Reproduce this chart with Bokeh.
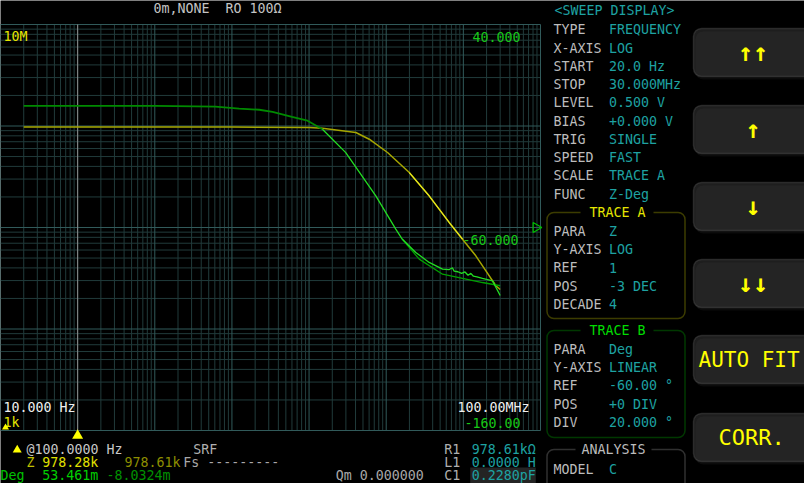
import math
from bokeh.plotting import figure
from bokeh.models import Range1d, LogScale, BoxAnnotation
from bokeh.core.properties import value
from bokeh.embed import file_html
from bokeh.resources import INLINE

# Trace A : |Z| (ohm) versus frequency (Hz)
z_freq = [20, 1e3, 1e4, 1e5, 149e3, 404e3, 603e3, 1.04e6, 1.99e6, 3.6e6,
          6.56e6, 9.75e6, 14.5e6, 19.6e6, 26.4e6, 30e6]
z_ohm = [978e3, 978e3, 977e3, 969e3, 951e3, 863e3, 741e3, 548e3, 348e3, 205e3,
         112e3, 76.7e3, 52.6e3, 37.4e3, 26.7e3, 24.5e3]

# Trace B : phase (deg) versus frequency (Hz), current sweep
ph_freq = [20, 1e3, 6.1e3, 12.4e3, 22.6e3, 33.6e3, 60e3, 95.5e3, 149e3, 299e3,
           733e3, 1.33e6, 1.62e6, 2.42e6, 3.6e6, 5.37e6, 6.5e6, 7.2e6, 7.6e6,
           8.5e6, 9.5e6, 10.5e6, 11.5e6, 12.5e6, 13.5e6, 15e6, 17.7e6, 23.9e6, 30e6]
ph_deg = [-0.05, -0.1, -0.5, -1.4, -2.0, -3.0, -5.5, -7.4, -11.6, -23.1,
          -44.4, -60.8, -65.8, -72.3, -77.2, -80.5, -80.8, -79.8, -81.5,
          -81.8, -82.6, -81.9, -83.5, -82.6, -84.0, -84.3, -85.1, -86.3, -93.5]

# Trace B : previous (dim) sweep, high-frequency part
ph2_freq = [1.62e6, 2.68e6, 5.37e6, 9.75e6, 17.7e6, 30e6]
ph2_deg = [-65.8, -75.6, -83.0, -85.1, -87.1, -88.7]

# axis limits / ticks
f_decades = [10, 100, 1e3, 1e4, 1e5, 1e6, 1e7, 1e8]
z_decades = [1e3, 1e4, 1e5, 1e6, 1e7]
phase_top, phase_bottom = 40.0, -160.0
marker_freq = 100
ref_phase = -60.0

# side panel texts
sweep_labels = ["TYPE", "X-AXIS", "START", "STOP", "LEVEL", "BIAS", "TRIG", "SPEED", "SCALE", "FUNC"]
sweep_values = ["FREQUENCY", "LOG", "20.0 Hz", "30.000MHz", "0.500 V", "+0.000 V",
                "SINGLE", "FAST", "TRACE A", "Z-Deg"]
traceA_labels = ["PARA", "Y-AXIS", "REF", "POS", "DECADE"]
traceA_values = ["Z", "LOG", "1", "-3 DEC", "4"]
traceB_labels = ["PARA", "Y-AXIS", "REF", "POS", "DIV"]
traceB_values = ["Deg", "LINEAR", "-60.00 °", "+0 DIV", "20.000 °"]
button_texts = ["↑↑", "↑", "↓", "↓↓", "AUTO FIT", "CORR."]

# ---------------- layout (page pixel coordinates) ----------------
FONT = "DejaVu Sans Mono"
FS = "13.3px"
NB = "\u00a0"
PAGE_X0, PAGE_X1, PAGE_Y0, PAGE_Y1 = 8, 812, 8, 491
CX0, CX1, CY0, CY1 = 8, 548, 32, 438   # chart frame


def py(y):
    """page y (down) -> plot y (up)"""
    return PAGE_Y1 - y


F_LO, F_HI = f_decades[0], f_decades[-1]
Z_LO, Z_HI = z_decades[0], z_decades[-1]


def f_at(x):
    lf = math.log10(F_LO) + (x - CX0) / (CX1 - CX0) * (math.log10(F_HI) - math.log10(F_LO))
    return 10 ** lf


def z_at(y):
    lz = math.log10(Z_LO) + (CY1 - y) / (CY1 - CY0) * (math.log10(Z_HI) - math.log10(Z_LO))
    return 10 ** lz


def ph_at(y):
    return phase_bottom + (CY1 - y) / (CY1 - CY0) * (phase_top - phase_bottom)


p = figure(width=PAGE_X1 - PAGE_X0, height=PAGE_Y1 - PAGE_Y0,
           x_range=Range1d(PAGE_X0, PAGE_X1), y_range=Range1d(0, PAGE_Y1 - PAGE_Y0),
           x_axis_location=None, y_axis_location=None,
           output_backend="svg", toolbar_location=None, min_border=0,
           background_fill_color="#000000", border_fill_color="#000000",
           outline_line_color=None)
p.grid.visible = False

p.extra_x_ranges = {"f": Range1d(f_at(PAGE_X0), f_at(PAGE_X1))}
p.extra_x_scales = {"f": LogScale()}
p.extra_y_ranges = {"z": Range1d(z_at(PAGE_Y1), z_at(PAGE_Y0)),
                    "ph": Range1d(ph_at(PAGE_Y1), ph_at(PAGE_Y0))}
p.extra_y_scales = {"z": LogScale()}

GRID_MINOR = "#213b3b"
GRID_MAJOR = "#315a5a"

# grid: log minor lines
f_minor = [m * d for d in f_decades[:-1] for m in range(2, 10)]
z_minor = [m * d for d in z_decades[:-1] for m in range(2, 10)]
p.segment(x0=f_minor, x1=f_minor, y0=[Z_LO] * len(f_minor), y1=[Z_HI] * len(f_minor),
          x_range_name="f", y_range_name="z", line_color=GRID_MINOR, line_width=1)
p.segment(x0=[F_LO] * len(z_minor), x1=[F_HI] * len(z_minor), y0=z_minor, y1=z_minor,
          x_range_name="f", y_range_name="z", line_color=GRID_MINOR, line_width=1)
p.segment(x0=f_decades, x1=f_decades, y0=[Z_LO] * len(f_decades), y1=[Z_HI] * len(f_decades),
          x_range_name="f", y_range_name="z", line_color=GRID_MAJOR, line_width=1)
p.segment(x0=[F_LO] * len(z_decades), x1=[F_HI] * len(z_decades), y0=z_decades, y1=z_decades,
          x_range_name="f", y_range_name="z", line_color=GRID_MAJOR, line_width=1)
# marker line
p.segment(x0=[marker_freq], x1=[marker_freq], y0=[Z_LO], y1=[Z_HI],
          x_range_name="f", y_range_name="z", line_color="#8a8a8a", line_width=1)

# Trace A (yellow)
p.line(z_freq, z_ohm, x_range_name="f", y_range_name="z", line_color="#a6a600", line_width=1.5)
hi_f = [f for f in z_freq if 1.5e6 <= f <= 12e6]
hi_z = [z for f, z in zip(z_freq, z_ohm) if 1.5e6 <= f <= 12e6]
p.line(hi_f, hi_z, x_range_name="f", y_range_name="z", line_color="#e8e820", line_width=1.2)

# Trace B (green)
lo_f = [f for f in ph_freq if f <= 149e3]
lo_p = [v for f, v in zip(ph_freq, ph_deg) if f <= 149e3]
up_f = [f for f in ph_freq if f >= 149e3]
up_p = [v for f, v in zip(ph_freq, ph_deg) if f >= 149e3]
p.line(ph2_freq, ph2_deg, x_range_name="f", y_range_name="ph", line_color="#00a000", line_width=1.3)
p.line(lo_f, lo_p, x_range_name="f", y_range_name="ph", line_color="#008a00", line_width=1.8)
p.line(up_f, up_p, x_range_name="f", y_range_name="ph", line_color="#22dd22", line_width=1.3)


def txt(x, y, s, color, size=FS, align="left", style="normal"):
    p.text(x=[x], y=[py(y)], text=[s], text_color=color, text_font=value(FONT),
           text_font_size=size, text_align=align, text_baseline="middle",
           text_font_style=style)


GRAY = "#bcbcbc"
TEAL = "#1ea2a2"
YEL = "#e6e600"
GRN = "#18c818"
WHITE = "#f0f0f0"

# chart labels
txt(11, 44, "10M", YEL)
txt(528, 44, "40.000", GRN, align="right")
txt(526, 247, "-60.000", GRN, align="right")
txt(11, 415, "10.000 Hz", WHITE)
txt(11, 430, "1k", YEL)
txt(537, 415, "100.00MHz", WHITE, align="right")
txt(528, 430, "-160.00", GRN, align="right")

# reference marker (phase) and frequency marker
p.scatter(x=[543.5], y=[ref_phase], y_range_name="ph", marker="triangle", angle=-math.pi / 2,
          size=10, fill_color=None, line_color="#00c000", line_width=1.2)
p.scatter(x=[marker_freq], y=[py(443)], x_range_name="f", marker="triangle", size=11,
          fill_color="#ffff00", line_color=None)
p.scatter(x=[13], y=[py(435)], marker="triangle", size=7, fill_color="#ffff00", line_color=None)

# header
txt(161, 16, "0m,NONE" + NB + NB + "RO 100Ω", "#c4c4c4")

# sweep display panel
txt(562, 18, "<SWEEP DISPLAY>", TEAL)
for i, (lab, val) in enumerate(zip(sweep_labels, sweep_values)):
    yy = 37.3 + i * 18.27
    txt(561, yy, lab, GRAY)
    txt(616.5, yy, val, TEAL)


def panel_box(top, bottom, color, title, title_color, gap0, gap1, tcx):
    p.add_layout(BoxAnnotation(left=554.5, right=692.5, top=py(top), bottom=py(bottom),
                               fill_color=None, line_color=color, line_width=1.5,
                               border_radius=7, level="underlay"))
    p.quad(left=[gap0], right=[gap1], top=[py(top - 4)], bottom=[py(top + 4)],
           fill_color="#000000", line_color=None)
    txt(tcx, top, title, title_color, align="center")


panel_box(220, 326, "#c8c800", "TRACE A", YEL, 588, 661, 625)
for i, (lab, val) in enumerate(zip(traceA_labels, traceA_values)):
    yy = 239 + i * 18.2
    txt(561, yy, lab, GRAY)
    txt(616.5, yy, val, TEAL)

panel_box(338, 445, "#00b800", "TRACE B", "#00dd00", 588, 661, 625)
for i, (lab, val) in enumerate(zip(traceB_labels, traceB_values)):
    yy = 356.7 + i * 18.3
    txt(561, yy, lab, GRAY)
    txt(616.5, yy, val, TEAL)

panel_box(457, 510, "#a0a0a0", "ANALYSIS", GRAY, 583, 659, 621)
txt(561, 476.7, "MODEL", GRAY)
txt(616.5, 476.7, "C", TEAL)

# soft-key buttons
btn_tops = [36, 113, 190, 267, 343, 421]
for top, lab in zip(btn_tops, button_texts):
    p.add_layout(BoxAnnotation(left=703, right=830, top=py(top + 3), bottom=py(top + 51),
                               fill_color="#1c1c1c", line_color=None, border_radius=8,
                               level="underlay"))
    p.add_layout(BoxAnnotation(left=701, right=828, top=py(top), bottom=py(top + 48),
                               fill_color="#4a4a4a", line_color="#6e6e6e", line_width=1.5,
                               border_radius=8, level="underlay"))
    cy = top + 24
    if "↑" in lab or "↓" in lab:
        txt(760.5, cy, lab, "#ffff00", size="25px", align="center", style="bold")
    elif lab == "AUTO FIT":
        txt(706, cy, lab, "#ffff00", size="21px")
    else:
        txt(726, cy, lab, "#ffff00", size="22px")

# readouts (bottom)
R1, R2, R3 = 456.5, 470, 483
p.scatter(x=[24.7], y=[py(R1 + 1)], marker="triangle", size=9, fill_color="#ffff00", line_color=None)
txt(34, R1, "@100.0000 Hz", "#c8c8c8")
txt(200.7, R1, "SRF", "#b0b0b0")
txt(34, R2, "Z", "#c0c000")
txt(49.7, R2, "978.28k", "#e0e000")
txt(132, R2, "978.61k", "#8e8e00")
txt(190.7, R2, "Fs ---------", "#a8a8a8")
txt(8, R3, "Deg", "#00c000")
txt(49.7, R3, "53.461m", "#00d000")
txt(114, R3, "-8.0324m", "#009000")
txt(343.3, R3, "Qm 0.000000", "#a8a8a8")

p.add_layout(BoxAnnotation(left=477.7, right=543.3, top=py(R3 - 8), bottom=py(R3 + 9),
                           fill_color="#5a5a5a", line_color=None, level="underlay"))
txt(451.7, R1, "R1", "#b0b0b0")
txt(479.3, R1, "978.61kΩ", TEAL)
txt(451.7, R2, "L1", "#b0b0b0")
txt(479.3, R2, "0.0000 H", TEAL)
txt(451.7, R3, "C1", "#b0b0b0")
txt(479.3, R3, "0.2280pF", TEAL)

open("out.html", "w").write(file_html(p, INLINE))
